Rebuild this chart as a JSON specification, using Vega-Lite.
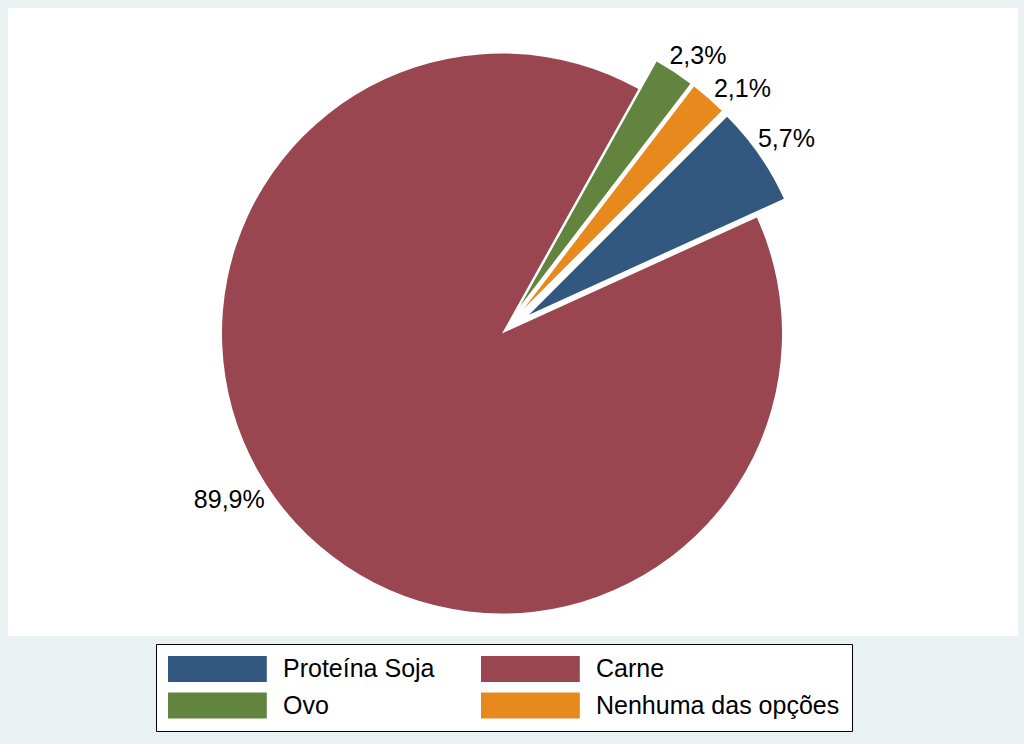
{
  "$schema": "https://vega.github.io/schema/vega-lite/v6.json",
  "width": 1010,
  "height": 628,
  "autosize": {"type": "none"},
  "padding": {"left": 8, "top": 8, "right": 6, "bottom": 108},
  "background": "#E9F1F2",
  "view": {"fill": "white", "stroke": null},
  "data": {
    "values": [
      {"categoria": "Proteína Soja", "pct": 5.7, "ordem": 1, "rotulo": "5,7%"},
      {"categoria": "Carne", "pct": 89.9, "ordem": 2, "rotulo": "89,9%"},
      {"categoria": "Ovo", "pct": 2.3, "ordem": 3, "rotulo": "2,3%"},
      {"categoria": "Nenhuma das opções", "pct": 2.1, "ordem": 4, "rotulo": "2,1%"}
    ]
  },
  "encoding": {
    "theta": {"field": "pct", "type": "quantitative", "stack": true, "scale": {"domain": [0, 100], "range": [0.7854, 7.0686]}},
    "order": {"field": "ordem", "type": "quantitative"}
  },
  "layer": [
    {
      "mark": {"type": "arc", "outerRadius": 280, "xOffset": -11, "yOffset": 11.5},
      "encoding": {
        "color": {
          "field": "categoria", "type": "nominal",
          "scale": {"domain": ["Proteína Soja", "Ovo", "Carne", "Nenhuma das opções"], "range": ["#325880", "#63843F", "#994650", "#E8891D"]},
          "legend": {
            "orient": "none", "legendX": 148, "legendY": 636, "columns": 2, "title": null,
            "symbolType": "M-1,-1H6.6V1H-1Z", "symbolSize": 676, "symbolStrokeWidth": 0, "symbolOpacity": 1,
            "labelFontSize": 25, "labelFont": "Liberation Sans", "labelColor": "black", "labelOffset": 89, "labelLimit": 500,
            "rowPadding": 10.5, "columnPadding": 46, "padding": 12, "fillColor": "white", "strokeColor": "black"
          }
        },
        "opacity": {"condition": {"test": "datum.categoria === 'Carne'", "value": 1}, "value": 0}
      }
    },
    {
      "mark": {"type": "arc", "outerRadius": 280, "xOffset": 7.2, "yOffset": -16},
      "encoding": {
        "color": {"field": "categoria", "type": "nominal"},
        "opacity": {"condition": {"test": "datum.categoria === 'Ovo'", "value": 1}, "value": 0}
      }
    },
    {
      "mark": {"type": "arc", "outerRadius": 280, "xOffset": 10.8, "yOffset": -13.3},
      "encoding": {
        "color": {"field": "categoria", "type": "nominal"},
        "opacity": {"condition": {"test": "datum.categoria === 'Nenhuma das opções'", "value": 1}, "value": 0}
      }
    },
    {
      "mark": {"type": "arc", "outerRadius": 280, "xOffset": 16.1, "yOffset": -7.3},
      "encoding": {
        "color": {"field": "categoria", "type": "nominal"},
        "opacity": {"condition": {"test": "datum.categoria === 'Proteína Soja'", "value": 1}, "value": 0}
      }
    },
    {
      "mark": {"type": "text", "font": "Liberation Sans", "fontSize": 25, "fill": "black", "align": "right", "baseline": "middle", "xOffset": -11, "yOffset": 11.5, "dx": -24, "dy": -30},
      "encoding": {
        "text": {"field": "rotulo"},
        "radius": {"value": 290},
        "opacity": {"condition": {"test": "datum.categoria === 'Carne'", "value": 1}, "value": 0}
      }
    },
    {
      "mark": {"type": "text", "font": "Liberation Sans", "fontSize": 25, "fill": "black", "align": "left", "baseline": "middle", "xOffset": 7.2, "yOffset": -16, "dx": -10, "dy": -8},
      "encoding": {
        "text": {"field": "rotulo"},
        "radius": {"value": 290},
        "opacity": {"condition": {"test": "datum.categoria === 'Ovo'", "value": 1}, "value": 0}
      }
    },
    {
      "mark": {"type": "text", "font": "Liberation Sans", "fontSize": 25, "fill": "black", "align": "left", "baseline": "middle", "xOffset": 10.8, "yOffset": -13.3, "dx": -1, "dy": -2},
      "encoding": {
        "text": {"field": "rotulo"},
        "radius": {"value": 290},
        "opacity": {"condition": {"test": "datum.categoria === 'Nenhuma das opções'", "value": 1}, "value": 0}
      }
    },
    {
      "mark": {"type": "text", "font": "Liberation Sans", "fontSize": 25, "fill": "black", "align": "left", "baseline": "middle", "xOffset": 16.1, "yOffset": -7.3, "dx": -9.5, "dy": -10.7},
      "encoding": {
        "text": {"field": "rotulo"},
        "radius": {"value": 290},
        "opacity": {"condition": {"test": "datum.categoria === 'Proteína Soja'", "value": 1}, "value": 0}
      }
    }
  ]
}
